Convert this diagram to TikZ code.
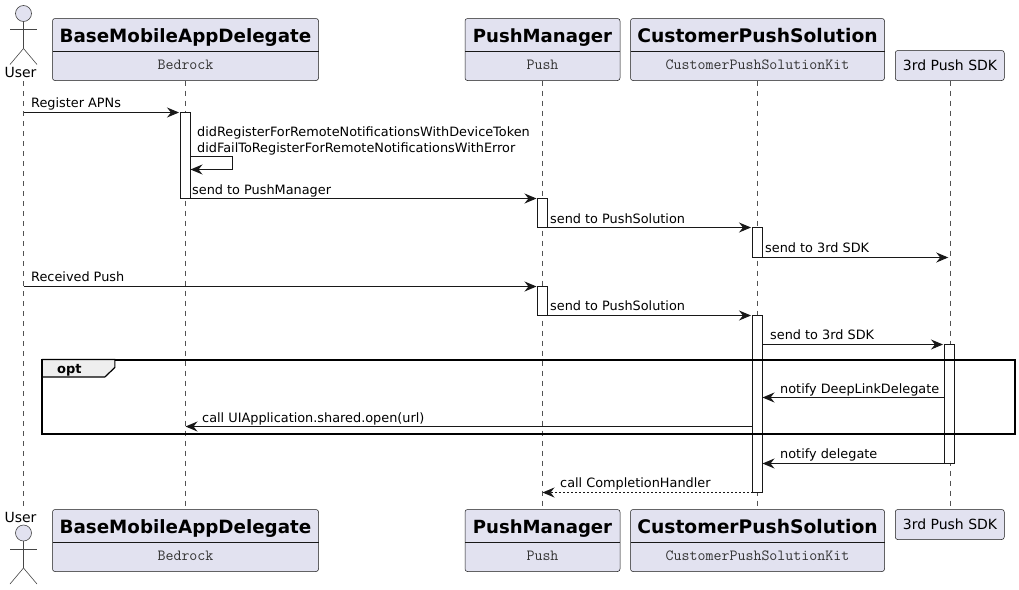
\documentclass[tikz,border=0pt]{standalone}
\usepackage{fontspec}
\setmainfont{DejaVu Sans}
\usepackage{xcolor}
\usetikzlibrary{arrows.meta}
\definecolor{partfill}{HTML}{E2E2F0}
\definecolor{ink}{HTML}{181818}
\definecolor{tabfill}{HTML}{EEEEEE}
\tikzset{
	partbox/.style={draw=ink,line width=0.5pt,fill=partfill,rounded corners=2.5pt,outer sep=0pt,inner sep=0pt},
	subtext/.style={anchor=base,inner sep=0pt,text=black!80,font=\fontsize{15.5}{17}\ttfamily\selectfont},
	plaintext/.style={anchor=base,inner sep=0pt,text=black,font=\fontsize{14}{16}\selectfont},
	msgtext/.style={anchor=base west,inner sep=0pt,text=black,font=\fontsize{12.85}{15}\selectfont},
	lifeline/.style={draw=ink!75,line width=0.5pt,dash pattern=on 5pt off 5pt},
	actbar/.style={draw=ink,fill=white,line width=1pt,minimum width=10pt,inner sep=0pt,outer sep=0pt},
	msg/.style={draw=ink,line width=1pt,-{Stealth[length=12pt,width=10pt,inset=4pt]}},
	actor/.style={draw=ink!80,line width=0.6pt},
}
\begin{document}
\begin{tikzpicture}[x=1pt,y=-1pt]
	\useasboundingbox (0,0) rectangle (1019,589);
	% Participants, top row and bottom row
	\foreach \row/\yy in {t/0,b/491}{
		\foreach \nm/\cx/\boxw/\tsize/\ttl/\subt in {base/185.5/266/18.3/BaseMobileAppDelegate/Bedrock,pm/542.5/155/18.1/PushManager/Push,cps/757.5/254/18.7/CustomerPushSolution/CustomerPushSolutionKit}{
			\node[partbox,minimum width=\boxw pt,minimum height=62pt] (\nm\row) at (\cx,49.5+\yy) {};
			\draw[line width=0.7pt,draw=ink] (\nm\row.west |- 0,51.5+\yy) -- (\nm\row.east |- 0,51.5+\yy);
			\node[anchor=base,inner sep=0pt,font=\fontsize{\tsize}{20}\bfseries\selectfont] (\nm title\row) at (\cx,42.4+\yy) {\ttl};
			\node[subtext] (\nm sub\row) at (\cx,69+\yy) {\subt};
		}
	}
	\node[partbox,minimum width=109pt,minimum height=30pt] (sdkt) at (949.75,65.5) {};
	\node[partbox,minimum width=109pt,minimum height=30pt] (sdkb) at (949.75,524.5) {};
	\node[plaintext] (sdklabelt) at (950,70) {3rd Push SDK};
	\node[plaintext] (sdklabelb) at (950,529) {3rd Push SDK};
	% Actor
	\coordinate (usert) at (23.5,81);
	\coordinate (userb) at (23.5,507);
	\node[plaintext] (userlabelt) at (20.5,77.7) {User};
	\node[plaintext] (userlabelb) at (20.5,522.4) {User};
	\foreach \row/\yy in {t/13.5,b/533}{
		\node[actor,circle,fill=partfill,minimum size=16pt,inner sep=0pt,outer sep=0pt] (head\row) at (23.5,\yy) {};
		\draw[actor] (head\row.south) -- ++(0,27) -- ++(-13.5,16);
		\draw[actor] (head\row.south) ++(0,27) -- ++(13.5,16);
		\draw[actor] (head\row.south) ++(-13.5,8) -- ++(27,0);
	}
	% Lifelines
	\draw[lifeline] (usert) -- (userb);
	\foreach \nm in {base,pm,cps,sdk}
		\draw[lifeline,shorten >=2.5pt] (\nm t.south) -- (\nm b.north);
	% Activation bars
	\foreach \nm/\cx/\ya/\yb in {act1/185.5/112.5/198.5,act2/542.5/198.5/227.5,act3/757.5/227.5/257.5,act4/542.5/286.5/315.5,act5/757.5/315.5/492.5,act6/949.5/344.5/463.5}
		\node[actbar,minimum height={(\yb-\ya)*1pt}] (\nm) at (\cx,{(\ya+\yb)/2}) {};
	% Messages
	\foreach \src/\dest/\yy/\gap in {usert/act1.west/112.5/1.5,act1.east/act2.west/198.5/1,act2.east/act3.west/227.5/1.5,act3.east/sdkt.south/257.5/1.5,usert/act4.west/286.5/1,act4.east/act5.west/315.5/1.5,act5.east/act6.west/344.5/1.5,act6.west/act5.east/397.5/0,act5.west/baset.south/426.5/0,act6.west/act5.east/463.5/0}
		\draw[msg,shorten >=\gap pt] (\src |- 0,\yy) -- (\dest |- 0,\yy);
	\draw[msg,dash pattern=on 2pt off 2pt] (act5.west |- 0,492.5) -- (pmt.south |- 0,492.5);
	% Self message
	\coordinate (selfa) at (act1.east |- 0,156.5);
	\coordinate (selfb) at (act1.east |- 0,169.5);
	\draw[msg] (selfa) -- ++(42,0) -- ++(0,13) -- (selfb);
	% Opt frame
	\node[draw=black,line width=2pt,inner sep=0pt,outer sep=0pt,minimum width=972.5pt,minimum height=74.5pt] (optbox) at (528.6,396.75) {};
	\draw[draw=black,line width=1.2pt,fill=tabfill] (optbox.north west) -- ++(72.5,0) -- ++(0,8) -- ++(-10,9.5) -- ++(-62.5,0) -- cycle;
	\node[msgtext,font=\fontsize{13}{15}\bfseries\selectfont] (optlabel) at (57,373) {opt};
	% Message texts
	\foreach \tx/\ty/\lbl [count=\i] in {31/107/Register APNs,197/136/didRegisterForRemoteNotificationsWithDeviceToken,197/152/didFailToRegisterForRemoteNotificationsWithError,192/194/send to PushManager,550/223/send to PushSolution,765/252/send to 3rd SDK,31/281/Received Push,550/310/send to PushSolution,770/339/send to 3rd SDK,780/393/notify DeepLinkDelegate,202/422/call UIApplication.shared.open(url),780/458/notify delegate,560/487/call CompletionHandler}
		\node[msgtext] (lbl\i) at (\tx,\ty) {\lbl};
\end{tikzpicture}
\end{document}
